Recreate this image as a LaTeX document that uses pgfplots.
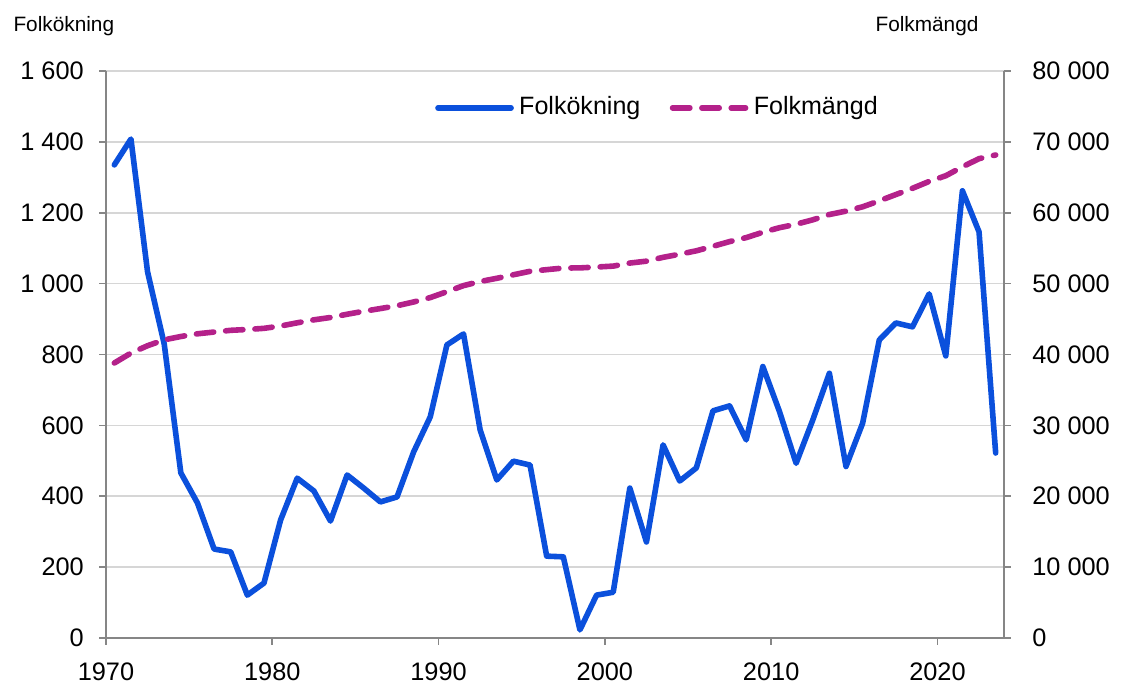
\documentclass[border=0pt]{standalone}
\usepackage{fontspec}
\setmainfont{Liberation Sans}
\usepackage{pgfplots}
\usepackage{pgfplotstable}
\pgfplotsset{compat=1.18}

\definecolor{okblue}{RGB}{11,80,220}
\definecolor{mpink}{RGB}{180,33,138}
\definecolor{axgray}{RGB}{134,134,134}
\definecolor{grgray}{RGB}{214,214,214}

% year, Folkökning, Folkmängd
\pgfplotstableread{
year inc pop
1970 1335 38800
1971 1408 40200
1972 1033 41240
1973 830 42070
1974 466 42540
1975 381 42920
1976 251 43170
1977 243 43410
1978 121 43530
1979 155 43690
1980 333 44020
1981 451 44470
1982 415 44890
1983 330 45220
1984 460 45680
1985 423 46100
1986 384 46480
1987 398 46880
1988 525 47410
1989 624 48030
1990 827 48860
1991 858 49720
1992 587 50300
1993 446 50750
1994 499 51250
1995 488 51740
1996 231 51970
1997 229 52200
1998 23 52220
1999 121 52340
2000 129 52470
2001 423 52900
2002 271 53170
2003 545 53710
2004 443 54150
2005 480 54630
2006 641 55270
2007 655 55930
2008 559 56490
2009 766 57250
2010 639 57890
2011 493 58380
2012 615 59000
2013 747 59750
2014 484 60230
2015 606 60840
2016 841 61680
2017 889 62570
2018 878 63450
2019 971 64420
2020 796 65220
2021 1262 66480
2022 1146 67630
2023 522 68150
}\data

\pgfplotsset{
  common/.style={
    at={(39.75pt,-239.25pt)}, anchor=south west,
    scale only axis, width=336.75pt, height=212.625pt,
    xmin=1970, xmax=2024,
    axis line style={-, draw=axgray, line width=0.6pt},
    tick align=outside,
    major tick length=2.6pt,
    tick style={draw=axgray, line width=0.6pt},
    tick label style={font=\fontsize{9.5pt}{11pt}\selectfont},
    /pgf/number format/assume math mode=true,
    /pgf/number format/1000 sep={\ },
    scaled ticks=false,
  },
  blueline/.style={draw=okblue, line width=2.1pt, line join=round, line cap=round},
  pinkline/.style={draw=mpink, line width=2.1pt, line join=round, line cap=round,
    dash pattern=on 6.5pt off 4.5pt},
}

\begin{document}
\begin{tikzpicture}
\path[use as bounding box] (0,0) rectangle (421.875pt,-255.75pt);

\begin{axis}[common,
  ymin=0, ymax=1600,
  xtick={1970,1980,...,2020},
  ytick={0,200,...,1600},
  axis x line*=bottom, axis y line*=left,
  x tick label style={/pgf/number format/1000 sep={}, yshift=-3pt},
  y tick label style={xshift=-2.2pt},
  ymajorgrids,
  major grid style={draw=grgray, line width=0.6pt},
]
\addplot[blueline] table[x expr=\thisrow{year}+0.5, y=inc] {\data};
\end{axis}

\begin{axis}[common,
  ymin=0, ymax=80000,
  axis x line=none, axis y line*=right,
  ytick={0,10000,...,80000},
  y tick label style={xshift=4.5pt},
  legend columns=2,
  legend style={draw=none, fill=none, inner sep=0pt,
    at={(0.366,0.935)}, anchor=west,
    font=\fontsize{9.4pt}{11pt}\selectfont,
    /tikz/every even column/.append style={column sep=9pt}},
  legend image code/.code={\draw[#1] (0pt,0pt) -- (27.4pt,0pt);},
]
\addlegendimage{blueline}
\addlegendentry{Folkökning}
\addplot[pinkline] table[x expr=\thisrow{year}+0.5, y=pop] {\data};
\addlegendentry{Folkmängd}
\end{axis}

\node[anchor=base west, inner sep=0pt, font=\fontsize{7.8pt}{9pt}\selectfont] at (4.875pt,-12pt) {Folkökning};
\node[anchor=base west, inner sep=0pt, font=\fontsize{7.8pt}{9pt}\selectfont] at (328.125pt,-12pt) {Folkmängd};
\end{tikzpicture}
\end{document}
